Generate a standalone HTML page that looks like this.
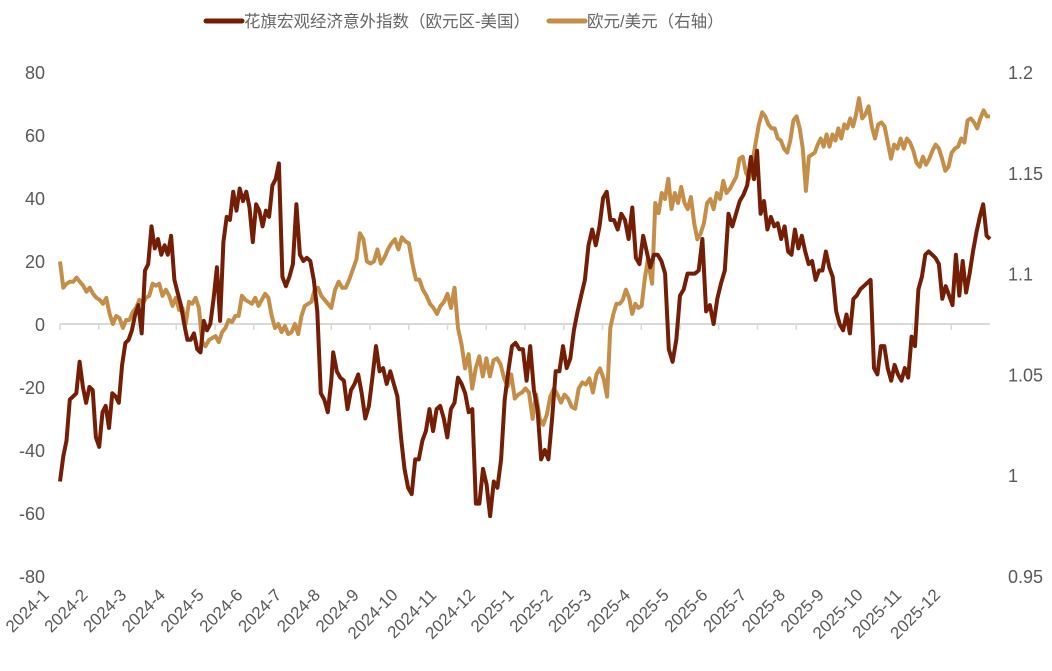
<!DOCTYPE html>
<html><head><meta charset="utf-8">
<style>
html,body{margin:0;padding:0;background:#fff;}
svg{display:block;font-family:"Liberation Sans","Noto Sans CJK SC",sans-serif;}
</style></head>
<body>
<svg id="chart" width="1052" height="671" viewBox="0 0 1052 671" xmlns="http://www.w3.org/2000/svg">
  <g>
    <g>
      <line x1="206" y1="21" x2="242" y2="21" stroke="#741f05" stroke-width="5" stroke-linecap="round"/>
      <text x="244" y="27" font-size="16.5" fill="#666666">花旗宏观经济意外指数（欧元区-美国）</text>
    </g>
    <g>
      <line x1="549" y1="21" x2="585" y2="21" stroke="#c48e48" stroke-width="5" stroke-linecap="round"/>
      <text x="587" y="27" font-size="16.5" fill="#666666">欧元/美元（右轴）</text>
    </g>
  </g>
  <g id="leftAxis"></g>
  <g id="rightAxis"></g>
  <g id="xAxis"></g>
  <g id="series"></g>
</svg>
<script>
const months = ["2024-1","2024-2","2024-3","2024-4","2024-5","2024-6","2024-7","2024-8","2024-9","2024-10","2024-11","2024-12","2025-1","2025-2","2025-3","2025-4","2025-5","2025-6","2025-7","2025-8","2025-9","2025-10","2025-11","2025-12"];
const leftTicks = [80,60,40,20,0,-20,-40,-60,-80];
const rightTicks = [1.2,1.15,1.1,1.05,1,0.95];
const rightTickLabels = ["1.2","1.15","1.1","1.05","1","0.95"];
const surpriseIndex = [-50,-42,-37,-24,-23,-22,-12,-20,-25,-20,-21,-36,-39,-28,-26,-33,-22,-23,-25,-13,-6,-5,-2,3,6,-3,17,19,31,24,27,22,25,22,28,14,10,6,0,-5,-5,-3,-8,-9,1,-2,0,8,18,1,26,34,33,42,36,43,39,42,37,26,38,36,31,36,34,44,46,51,15,12,15,19,38,22,20,21,20,14,4,-22,-24,-28,-18,
-9,-15,-17,-18,-27,-21,-19,-16,-22,-30,-26,-17,-7,-15,-14,-19,-15,-19,-23,-36,-46,-52,-54,-43,-43,-37,-34,-27,-34,-27,-26,-30,-36,-27,-25,-17,-19,-22,-28,-27,-57,-57,-46,-51,-61,-50,-52,-43,-24,-15,-7,-6,-8,-8,-18,-7,-21,-27,-43,-40,-43,-30,-15,-15,-7,-14,-11,-2,4,9,14,25,30,25,31,40,42,33,33,30,35,33,27,37,21,19,28,
18,22,22,20,16,-8,-12,-5,9,11,16,16,16,17,27,4,6,0,8,13,17,35,31,35,39,41,44,53,46,55,35,39,30,34,31,32,27,31,23,22,30,24,28,23,19,20,14,17,17,23,18,15,4,0,-2,3,-3,8,9,11,12,13,14,-14,-16,-7,-7,-14,-18,-13,-16,-18,-14,-17,-4,-7,11,15,22,23,22,21,19,8,12,9,6,22,9,20,10,16,23,29,34,38,28,27];
// observation index -> date (months since Jan 2024), interpolated between anchors
const surpriseDateIdx = [0,67,82,83,127,169,170,197,199,238,267];
const surpriseDateMonths = [0,5.65,7.0,7.05,11.1,15.05,15.23,17.83,17.99,21.45,24];
const eurusd = [1.106,1.093,1.095,1.096,1.096,1.098,1.096,1.094,1.091,1.093,1.090,1.088,1.087,1.085,1.088,1.080,1.075,1.079,1.078,1.073,1.077,1.077,1.081,1.083,1.087,1.085,1.088,1.089,1.095,1.094,1.095,1.089,1.092,1.089,1.084,1.088,1.082,1.083,1.075,1.086,1.085,1.088,1.083,1.066,1.064,1.067,1.068,1.069,1.066,1.071,1.073,1.077,1.076,1.079,1.079,1.089,1.087,1.086,1.085,1.088,1.084,1.087,1.090,1.088,1.079,1.073,1.075,1.071,1.074,1.070,1.071,1.075,1.070,1.079,1.084,1.085,1.086,1.092,1.093,1.089,1.087,1.085,1.083,
1.092,1.096,1.093,1.093,1.097,1.102,1.107,1.120,1.117,1.106,1.105,1.106,1.112,1.105,1.108,1.112,1.115,1.117,1.112,1.118,1.116,1.115,1.105,1.097,1.097,1.092,1.089,1.085,1.083,1.080,1.084,1.086,1.090,1.083,1.093,1.073,1.065,1.053,1.060,1.043,1.053,1.059,1.049,1.058,1.049,1.057,1.058,1.055,1.048,1.044,1.050,1.038,1.040,1.041,1.043,1.041,1.028,1.040,1.028,1.025,1.030,1.039,1.043,1.040,1.036,1.040,1.038,1.034,1.033,1.043,1.046,1.045,1.048,1.041,1.050,1.053,1.048,1.039,1.073,1.080,1.085,1.085,1.087,1.092,1.088,1.080,1.085,1.083,1.084,1.097,1.107,
1.095,1.135,1.130,1.140,1.137,1.147,1.132,1.140,1.135,1.143,1.135,1.132,1.138,1.125,1.117,1.120,1.125,1.135,1.137,1.132,1.140,1.137,1.146,1.140,1.142,1.145,1.148,1.157,1.158,1.150,1.147,1.155,1.165,1.174,1.180,1.178,1.174,1.172,1.172,1.167,1.166,1.162,1.160,1.166,1.176,1.178,1.172,1.162,1.141,1.158,1.159,1.160,1.164,1.167,1.163,1.169,1.163,1.169,1.166,1.172,1.167,1.174,1.172,1.177,1.173,1.179,1.187,1.177,1.179,1.183,1.173,1.167,1.174,1.175,1.173,1.165,1.157,1.164,1.162,1.167,1.162,1.167,1.165,1.161,1.155,1.153,1.158,1.154,1.157,1.161,1.164,1.162,1.157,1.151,1.153,1.160,1.162,1.163,1.167,1.165,1.176,1.177,1.175,1.172,1.177,1.181,1.178,1.178];
const eurusdDateIdx = [0,82,83,90,118,160,173,174,208,222,240,281];
const eurusdDateMonths = [0,7.0,7.10,7.74,10.27,14.12,15.17,15.28,18.12,19.25,20.62,24];

const NS = "http://www.w3.org/2000/svg";
const X0 = 60, X1 = 990, YT = 72, YB = 576;
const yL = v => YB - (v - (-80)) / 160 * (YB - YT);
const yR = v => YB - (v - 0.95) / 0.25 * (YB - YT);
const xMonth = m => X0 + m * (X1 - X0) / months.length;
function dateOf(i, idx, mon) {
  for (let k = 0; k < idx.length - 1; k++) {
    if (i >= idx[k] && i <= idx[k + 1]) {
      const f = idx[k + 1] === idx[k] ? 0 : (i - idx[k]) / (idx[k + 1] - idx[k]);
      return mon[k] + f * (mon[k + 1] - mon[k]);
    }
  }
  return mon[mon.length - 1];
}
function mk(tag, attrs, parent) { const e = document.createElementNS(NS, tag); for (const k in attrs) e.setAttribute(k, attrs[k]); parent.appendChild(e); return e; }

const la = document.getElementById('leftAxis');
leftTicks.forEach(v => {
  const t = mk('text', {x: 45, y: yL(v) + 7, 'text-anchor': 'end', 'font-size': 18, fill: '#595959'}, la);
  t.textContent = v;
  
  
});
const ra = document.getElementById('rightAxis');
rightTicks.forEach((v, i) => {
  const t = mk('text', {x: 1008, y: yR(v) + 7, 'font-size': 18, fill: '#595959'}, ra);
  t.textContent = rightTickLabels[i];
  
  
});
const xa = document.getElementById('xAxis');
const zl = mk('line', {x1: X0, x2: X1, y1: yL(0), y2: yL(0), stroke: '#d9d9d9', 'stroke-width': 2}, xa);


months.forEach((m, i) => {
  const x = xMonth(i);
  const tk = mk('line', {x1: x, x2: x, y1: yL(0), y2: yL(0) + 6, stroke: '#d9d9d9', 'stroke-width': 1.5}, xa);
  
  
  const t = mk('text', {x: 0, y: 0, 'text-anchor': 'end', 'font-size': 17, fill: '#595959', transform: `translate(${x - 10},${596}) rotate(-45)`}, xa);
  t.textContent = m;
  
  
});
const sg = document.getElementById('series');
function line(arr, yf, idx, mon, color) {
  const d = arr.map((v, i) => (i ? 'L' : 'M') + xMonth(dateOf(i, idx, mon)).toFixed(1) + ',' + yf(v).toFixed(1)).join('');
  return mk('path', {d, fill: 'none', stroke: color, 'stroke-width': 4, 'stroke-linejoin': 'round'}, sg);
}
const p2 = line(eurusd, yR, eurusdDateIdx, eurusdDateMonths, '#c48e48');


const p1 = line(surpriseIndex, yL, surpriseDateIdx, surpriseDateMonths, '#741f05');


</script>
</body></html>
